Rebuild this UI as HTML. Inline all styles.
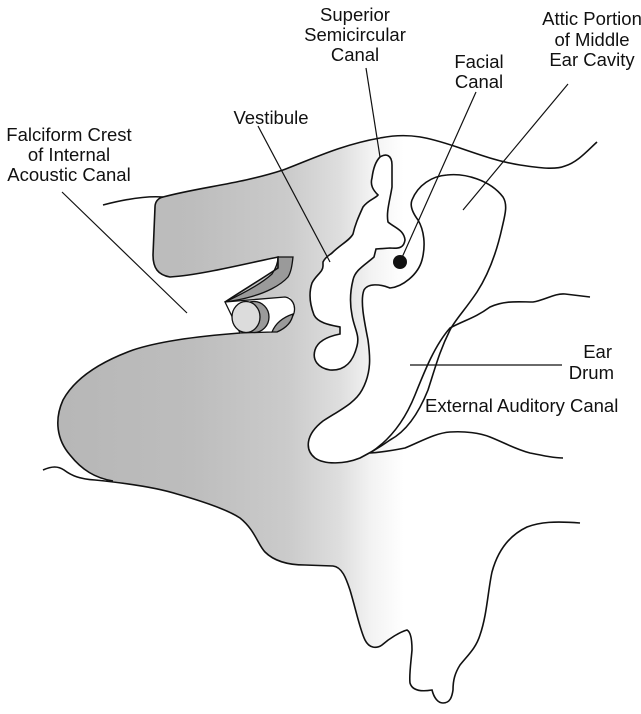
<!DOCTYPE html>
<html><head><meta charset="utf-8"><style>
html,body{margin:0;padding:0;background:#fff;}
svg{display:block;}
text{font-family:"Liberation Sans",sans-serif;font-size:18.5px;fill:#111;}
</style></head><body>
<svg width="641" height="714" viewBox="0 0 641 714" xmlns="http://www.w3.org/2000/svg">
<defs>
<linearGradient id="g" x1="0" y1="0" x2="641" y2="0" gradientUnits="userSpaceOnUse">
<stop offset="0" stop-color="#b4b4b4"/>
<stop offset="0.3" stop-color="#bdbdbd"/>
<stop offset="0.45" stop-color="#cbcbcb"/>
<stop offset="0.53" stop-color="#dedede"/>
<stop offset="0.58" stop-color="#f3f3f3"/>
<stop offset="0.63" stop-color="#ffffff"/>
</linearGradient>
</defs>

<path fill="url(#g)" stroke="none" d="M163,197 C200,187 240,184 283,170 C310,160 340,145 380,138 C410,132 430,138 457,147 L641,160 L641,530 L580,523 C555,521 540,522 527,527 C510,535 498,550 492,572 C488,590 487,615 480,635 C476,648 468,655 460,665 C455,673 453,680 453,690 C453,697 450,703 443,703 C438,703 434,698 432,690 C420,692 412,690 410,683 C409,675 411,662 412,650 C412,640 411,632 407,630 C400,632 390,638 382,645 C376,649 369,648 365,640 C360,630 356,610 350,590 C346,578 342,567 333,566 L305,565 C290,565 275,562 265,552 C258,545 255,530 240,518 C228,510 205,502 177,494 C155,487 125,483 113,481 C95,478 82,470 70,455 C57,440 54,420 63,400 C75,378 100,362 133,350 C160,341 200,336 240,333 L277,332 L290,320 L295,310 L290,297 L225,302 C240,292 260,280 278,268 L278,257 C240,265 200,275 170,277 C158,275 153,268 153,255 L155,207 C155,202 158,198 163,197 Z"/>

<path fill="#fff" stroke="#111" stroke-width="1.6" d="M412,200 C418,185 432,176 447,175 C465,173 490,180 503,197 C508,205 505,215 502,228 C496,255 488,275 477,292 C465,310 455,320 450,330 C440,350 436,365 428,390 C418,415 405,432 390,440 C380,447 372,452 360,458 C345,464 325,465 315,458 C305,450 305,435 323,421 C340,410 355,403 362,390 C372,372 370,355 368,340 C364,320 360,300 364,290 C368,283 380,284 390,288 C402,287 418,275 422,260 C426,245 424,230 418,220 C412,212 410,205 412,200 Z"/>

<path fill="#fff" stroke="#111" stroke-width="1.6" d="M380,157 C386,153 392,155 392,165 L392,187 C390,200 386,212 388,222 C395,228 404,230 405,240 C404,247 400,249 390,248 L376,249 L374,257 C365,265 355,270 353,280 C350,292 350,305 352,315 C354,328 360,335 357,346 C353,362 345,371 330,370 C318,368 312,360 315,350 C318,340 330,336 340,334 L340,327 C330,325 318,323 314,315 C309,302 309,292 312,283 C316,275 323,272 323,266 L323,262 C326,256 330,255 332,253 C340,245 350,240 353,234 C355,225 358,218 363,207 C368,200 376,198 378,195 C373,190 370,185 372,178 C373,170 375,162 380,157 Z"/>

<ellipse cx="400" cy="262" rx="7" ry="7" fill="#111"/>

<path fill="#9a9a9a" stroke="#111" stroke-width="1.3" d="M278,257 L293,257 C292,266 291,272 288,277 C280,286 265,293 250,297 C240,300 232,301 225,302 C240,295 260,285 272,274 C276,268 278,262 278,257 Z"/>
<path fill="#fff" stroke="#111" stroke-width="1.3" d="M225,302 L285,297 C292,298 296,305 294,313 C292,320 285,325 277,330 L272,332 L240,333 Z"/>
<path fill="#9a9a9a" stroke="#111" stroke-width="1.3" d="M272,332 C276,322 284,317 293,314 C292,322 286,328 277,332 Z"/>
<ellipse cx="254" cy="317" rx="15" ry="15.5" fill="#9a9a9a" stroke="#111" stroke-width="1.3"/>
<ellipse cx="246" cy="317" rx="14" ry="15.5" fill="#dcdcdc" stroke="#111" stroke-width="1.3"/>

<g fill="none" stroke="#111" stroke-width="1.6">
<path d="M103,205 C130,198 150,196 163,197 C200,187 240,184 283,170 C310,160 340,145 380,138 C410,132 430,138 457,147 C480,155 500,162 520,165 C540,168 555,170 565,166 C578,162 588,150 597,142"/>
<path d="M163,197 C158,198 155,202 155,207 L153,255 C153,268 158,275 170,277 C200,275 240,265 278,257 L278,268 C260,280 240,292 225,302"/>
<path d="M240,333 C200,336 160,341 133,350 C100,362 75,378 63,400 C54,420 57,440 70,455 C82,470 95,478 113,481"/>
<path d="M43,470 C52,466 58,466 64,470 C72,476 80,479 95,480 C125,483 155,487 177,494 C205,502 228,510 240,518 C255,530 258,545 265,552 C275,562 290,565 305,565 L333,566 C342,567 346,578 350,590 C356,610 360,630 365,640 C369,648 376,649 382,645 C390,638 400,632 407,630 C411,632 412,640 412,650 C411,662 409,675 410,683 C412,690 420,692 432,690 C434,698 438,703 443,703 C450,703 452,697 453,690 C453,680 455,673 460,665 C468,655 476,648 480,635 C487,615 488,590 492,572 C498,550 510,535 527,527 C540,522 555,521 580,523"/>
<path d="M370,453 C390,440 405,420 415,395 C425,370 435,345 450,328 C465,320 475,318 490,307 C505,300 520,302 533,302 C545,300 555,293 565,294 L590,297"/>
<path d="M370,453 C385,452 395,450 405,448 C420,442 435,433 450,432 C465,431 480,433 490,437 C505,443 515,449 530,453 C545,456 555,458 563,458"/>
</g>

<g stroke="#111" stroke-width="1.2" fill="none">
<line x1="62" y1="192" x2="187" y2="313"/>
<line x1="258" y1="126" x2="330" y2="262"/>
<line x1="366" y1="68" x2="380" y2="157"/>
<line x1="476" y1="92" x2="400" y2="262"/>
<line x1="568" y1="84" x2="463" y2="210"/>
<line x1="410" y1="365" x2="562" y2="365"/>
</g>

<g text-anchor="middle">
<text x="355" y="21">Superior</text>
<text x="355" y="41">Semicircular</text>
<text x="355" y="61">Canal</text>
<text x="479" y="68">Facial</text>
<text x="479" y="88">Canal</text>
<text x="592" y="25">Attic Portion</text>
<text x="592" y="46">of Middle</text>
<text x="592" y="66">Ear Cavity</text>
<text x="271" y="124">Vestibule</text>
<text x="69" y="141">Falciform Crest</text>
<text x="69" y="161">of Internal</text>
<text x="69" y="181">Acoustic Canal</text>
</g>
<g text-anchor="end">
<text x="612" y="358">Ear</text>
<text x="614" y="379">Drum</text>
</g>
<text x="425" y="412">External Auditory Canal</text>
</svg>
</body></html>
